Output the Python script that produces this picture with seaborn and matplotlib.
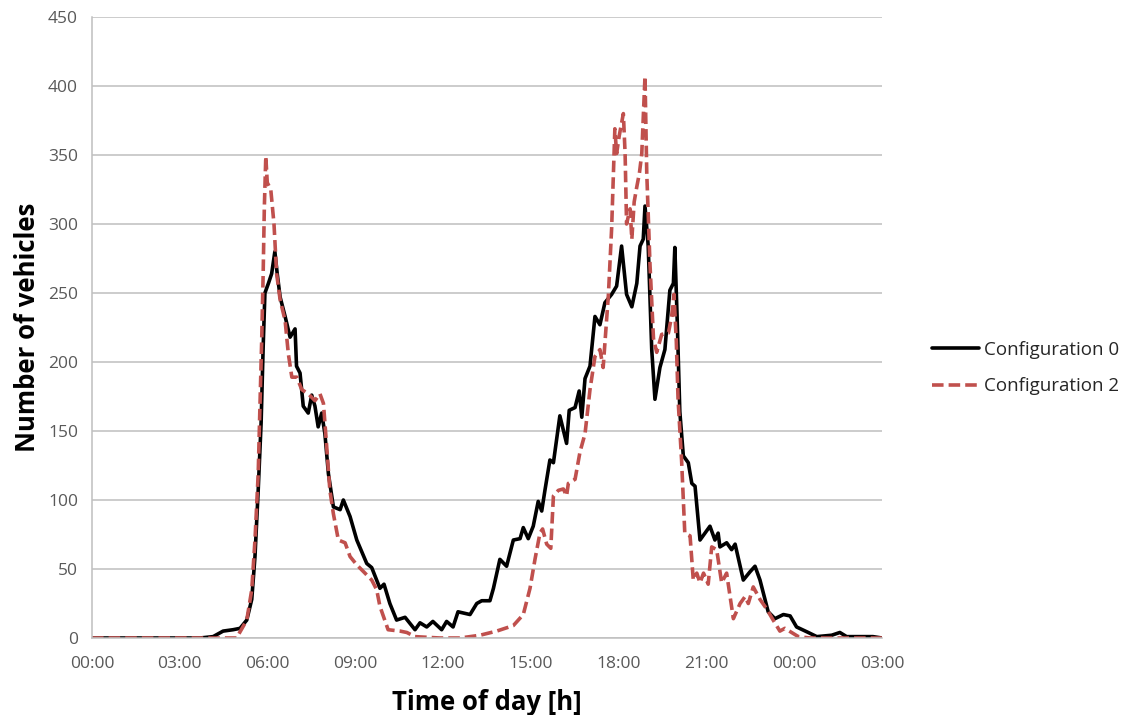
import numpy as np
import pandas as pd
import matplotlib
matplotlib.use("Agg")
import matplotlib.pyplot as plt
import seaborn as sns

# ---- data (hours since 00:00, number of vehicles) ----
config0_hours = [0.00, 3.69, 4.14, 4.48, 4.82, 5.06, 5.29, 5.46, 5.57, 5.68, 5.78, 5.85, 5.91,
                 6.03, 6.14, 6.25, 6.33, 6.43, 6.60, 6.77, 6.94, 6.99, 7.11, 7.22, 7.39, 7.51,
                 7.62, 7.73, 7.85, 7.96, 8.08, 8.25, 8.48, 8.59, 8.82, 9.05, 9.39, 9.56, 9.84,
                 9.98, 10.18, 10.41, 10.70, 11.04, 11.21, 11.44, 11.65, 11.95, 12.12, 12.34,
                 12.51, 12.92, 13.15, 13.32, 13.60, 13.72, 13.94, 14.17, 14.40, 14.63, 14.74,
                 14.91, 15.08, 15.25, 15.37, 15.48, 15.65, 15.77, 15.99, 16.22, 16.31, 16.51,
                 16.65, 16.74, 16.85, 17.02, 17.19, 17.36, 17.53, 17.76, 17.93, 18.10, 18.27,
                 18.45, 18.62, 18.73, 18.84, 18.90, 19.01, 19.13, 19.24, 19.41, 19.58, 19.75,
                 19.87, 19.92, 20.00, 20.09, 20.21, 20.38, 20.50, 20.61, 20.78, 20.95, 21.12,
                 21.29, 21.40, 21.46, 21.69, 21.86, 21.98, 22.26, 22.49, 22.66, 22.83, 23.00,
                 23.11, 23.34, 23.63, 23.86, 24.08, 24.48, 24.77, 25.28, 25.56, 25.79, 26.69,
                 27.00]
config0_values = [0, 0, 1, 5, 6, 7, 13, 28, 59, 107, 156, 211, 250,
                  257, 264, 280, 264, 247, 233, 218, 224, 197, 192, 168, 163, 176,
                  168, 153, 163, 148, 119, 95, 93, 100, 88, 71, 54, 51, 36,
                  39, 25, 13, 15, 6, 11, 8, 12, 6, 12, 8,
                  19, 17, 25, 27, 27, 36, 57, 52, 71, 72, 80,
                  72, 81, 99, 92, 107, 129, 127, 161, 141, 165, 167,
                  179, 160, 188, 197, 233, 227, 243, 249, 255, 284, 249,
                  240, 257, 284, 289, 313, 284, 209, 173, 196, 209, 252,
                  257, 283, 231, 164, 132, 127, 112, 110, 71, 76, 81,
                  71, 76, 66, 69, 64, 68, 42, 48, 52, 42, 28,
                  19, 14, 17, 16, 8, 4, 1, 2, 4, 1, 1,
                  0]

config2_hours = [0.00, 4.94, 5.29, 5.46, 5.57, 5.68, 5.74, 5.80, 5.85, 5.89, 5.94, 5.99, 6.11,
                 6.22, 6.31, 6.43, 6.60, 6.71, 6.83, 7.00, 7.17, 7.39, 7.62, 7.79, 7.91, 8.02,
                 8.13, 8.25, 8.42, 8.65, 8.82, 9.05, 9.33, 9.56, 9.73, 9.84, 10.12, 10.53,
                 10.76, 11.04, 11.89, 12.58, 13.26, 13.83, 14.40, 14.74, 14.97, 15.14, 15.31,
                 15.40, 15.54, 15.68, 15.77, 15.94, 16.11, 16.22, 16.28, 16.51, 16.68, 16.85,
                 17.02, 17.19, 17.36, 17.47, 17.65, 17.76, 17.87, 17.93, 18.02, 18.16, 18.22,
                 18.27, 18.39, 18.45, 18.53, 18.62, 18.71, 18.79, 18.84, 18.90, 18.96, 19.07,
                 19.19, 19.30, 19.47, 19.70, 19.81, 19.89, 19.97, 20.03, 20.15, 20.26, 20.44,
                 20.55, 20.67, 20.78, 20.90, 21.06, 21.18, 21.35, 21.52, 21.69, 21.92, 22.15,
                 22.32, 22.43, 22.60, 22.83, 23.06, 23.28, 23.51, 23.68, 23.91, 24.14, 24.54,
                 27.00]
config2_values = [0, 0, 13, 35, 71, 119, 168, 216, 264, 312, 349, 330, 325,
                  300, 264, 245, 230, 206, 189, 189, 180, 177, 172, 177, 170, 139,
                  107, 90, 71, 69, 59, 53, 47, 42, 35, 23, 6, 5,
                  4, 1, 0, 0, 2, 5, 9, 17, 36, 57, 76,
                  79, 68, 65, 103, 107, 108, 103, 112, 115, 135, 148,
                  180, 204, 209, 196, 249, 297, 369, 351, 364, 380, 351,
                  300, 311, 289, 316, 327, 337, 351, 377, 407, 337, 271,
                  217, 207, 220, 221, 233, 249, 215, 173, 129, 76, 74,
                  42, 47, 40, 47, 39, 66, 64, 40, 47, 14, 25,
                  30, 25, 37, 28, 21, 13, 5, 7, 4, 1, 0,
                  0]

series_names = ["Configuration 0", "Configuration 2"]
x_tick_hours = [0, 3, 6, 9, 12, 15, 18, 21, 24, 27]
x_tick_labels = ["00:00", "03:00", "06:00", "09:00", "12:00", "15:00",
                 "18:00", "21:00", "00:00", "03:00"]
y_ticks = [0, 50, 100, 150, 200, 250, 300, 350, 400, 450]

df = pd.concat([
    pd.DataFrame({"hour": config0_hours, "vehicles": config0_values, "config": series_names[0]}),
    pd.DataFrame({"hour": config2_hours, "vehicles": config2_values, "config": series_names[1]}),
], ignore_index=True)

sns.set_theme(style="white")
plt.rcParams["font.family"] = ["Open Sans", "DejaVu Sans"]

fig = plt.figure(figsize=(11.34, 7.15), dpi=100)
ax = fig.add_axes([92 / 1134, 1 - 638 / 715, (882 - 92) / 1134, (638 - 17) / 715])

sns.lineplot(data=df, x="hour", y="vehicles", hue="config", style="config",
             palette={series_names[0]: "#000000", series_names[1]: "#C0504D"},
             dashes={series_names[0]: "", series_names[1]: (3.2, 1.4)},
             estimator=None, sort=False, linewidth=2.6, ax=ax, legend=True)

ax.set_xlim(0, 27)
ax.set_ylim(0, 450)
ax.set_xticks(x_tick_hours)
ax.set_xticklabels(x_tick_labels)
ax.set_yticks(y_ticks)
ax.yaxis.grid(True, color="#BFBFBF", linewidth=1.1)
ax.xaxis.grid(False)
ax.set_axisbelow(True)
for s in ["top", "right"]:
    ax.spines[s].set_visible(False)
for s in ["left", "bottom"]:
    ax.spines[s].set_color("#BFBFBF")
    ax.spines[s].set_linewidth(1.1)
ax.tick_params(axis="both", which="both", direction="out", length=6, width=1.1,
               color="#BFBFBF", labelsize=12.5, labelcolor="#595959", pad=4)
ax.tick_params(axis="x", pad=7)

ax.set_xlabel("Time of day [h]", fontsize=18.5, fontweight="bold", color="black", labelpad=12)
ax.set_ylabel("Number of vehicles", fontsize=18.5, fontweight="bold", color="black", labelpad=5)

handles, labels = ax.get_legend_handles_labels()
ax.get_legend().remove()
fig.legend(handles, labels, loc="center left", bbox_to_anchor=(932 / 1134, 1 - 368 / 715),
           frameon=False, fontsize=13.5, handlelength=2.5, handletextpad=0.3,
           borderpad=0, borderaxespad=0, labelspacing=1.0, labelcolor="#262626")

fig.savefig("out.png", dpi=100)
